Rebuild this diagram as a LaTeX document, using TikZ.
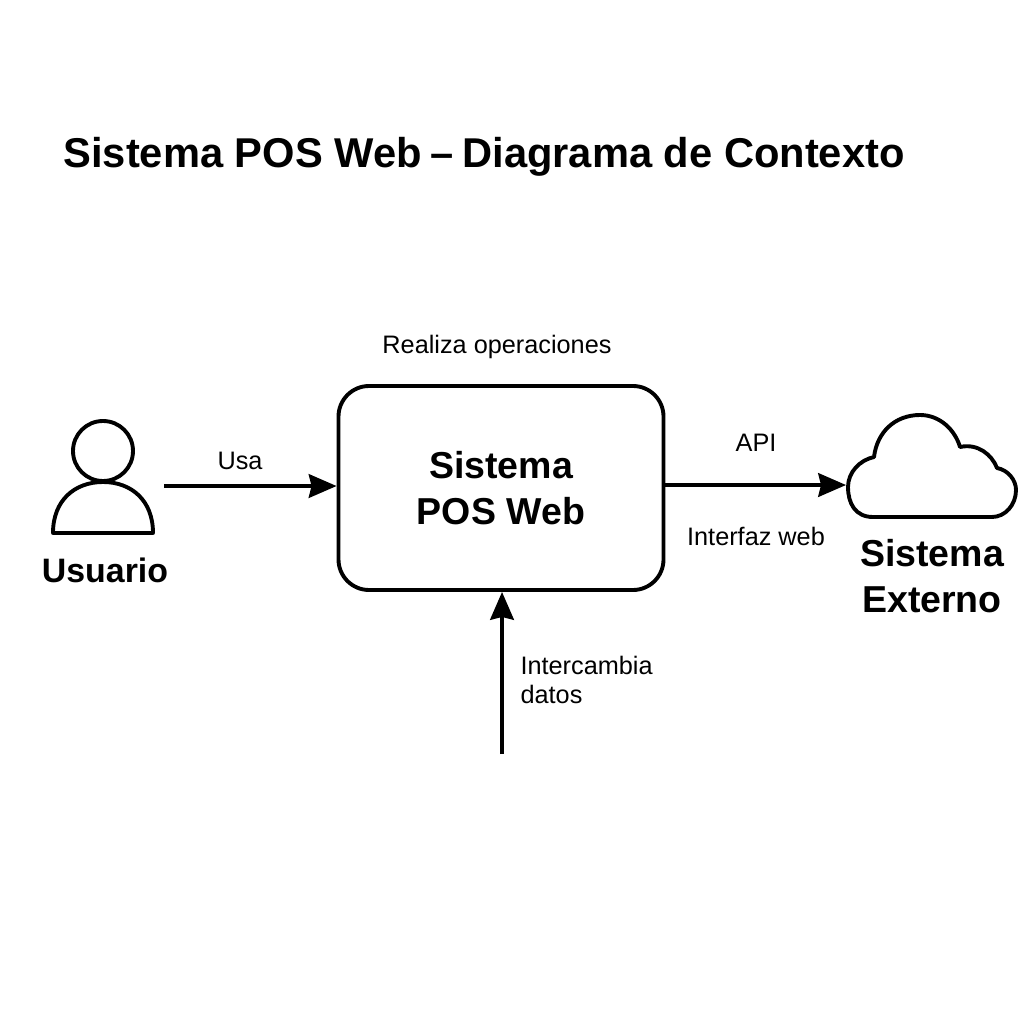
\documentclass[tikz,border=0pt]{standalone}
\usepackage{fontspec}
\setmainfont{Liberation Sans}
\usetikzlibrary{arrows.meta,calc}

\tikzset{
	flecha/.style={line width=1.35pt,-{Stealth[length=10pt,width=8.5pt,inset=1pt]}},
	silueta/.style={line width=1.4pt,line join=round},
	titulo/.style={font=\bfseries\fontsize{15}{18}\selectfont,inner sep=0},
	rotulo/.style={font=\fontsize{9.1}{10.2}\selectfont,inner sep=0,align=left},
	bloque/.style={font=\bfseries\fontsize{13.5}{16.5}\selectfont,inner sep=0,align=center}
}

\begin{document}
\begin{tikzpicture}[x=1pt,y=-1pt,scale=0.36]
	\useasboundingbox (0,0) rectangle (1024,1024);

	% Titulo
	\node [titulo,anchor=west] (titulo) at (63,157) {Sistema POS Web {\kern-1pt--\kern-1pt} Diagrama de Contexto};

	% Sistema central
	\node [draw,line width=1.4pt,rounded corners=11pt,minimum width=325*0.36pt,minimum height=204*0.36pt,bloque] (pos) at (501,488) {Sistema\\POS Web};

	% Usuario
	\draw [silueta] (103,451) circle (30);
	\draw [silueta] (53,533) .. controls (53,500) and (75,482) .. (103,482) .. controls (131,482) and (153,500) .. (153,533) -- cycle;
	\node [bloque,font=\bfseries\fontsize{12.2}{15}\selectfont] (usuario) at (105,570) {Usuario};

	% Nube
	\draw [silueta] (873,517) .. controls (855,517) and (848,503) .. (848,487) .. controls (848,472) and (860,460) .. (874,457)
		.. controls (877,432) and (895,415) .. (920,415) .. controls (940,415) and (955,430) .. (960,447)
		.. controls (978,443) and (992,455) .. (997,468) .. controls (1008,470) and (1016,480) .. (1016,490)
		.. controls (1016,505) and (1005,517) .. (992,517) -- cycle;
	\node [bloque] (externo) at (932,576) {Sistema\\Externo};

	% Conexiones
	\coordinate (desdeUsuario) at (164,486);
	\coordinate (nube) at (846,485);
	\coordinate (abajo) at (502,754);
	\draw [flecha] (desdeUsuario) -- (desdeUsuario -| pos.west);
	\draw [flecha] (nube -| pos.east) -- (nube);
	\draw [flecha] (abajo) -- (abajo |- pos.south);

	% Rotulos
	\node [rotulo] (realiza) at (497,347) {Realiza operaciones};
	\node [rotulo] (usa) at (240,461) {Usa};
	\node [rotulo] (api) at (756,443) {API};
	\node [rotulo] (interfaz) at (756,536) {Interfaz web};
	\node [rotulo,anchor=west] (intercambia) at (520,680) {Intercambia\\datos};
\end{tikzpicture}
\end{document}
